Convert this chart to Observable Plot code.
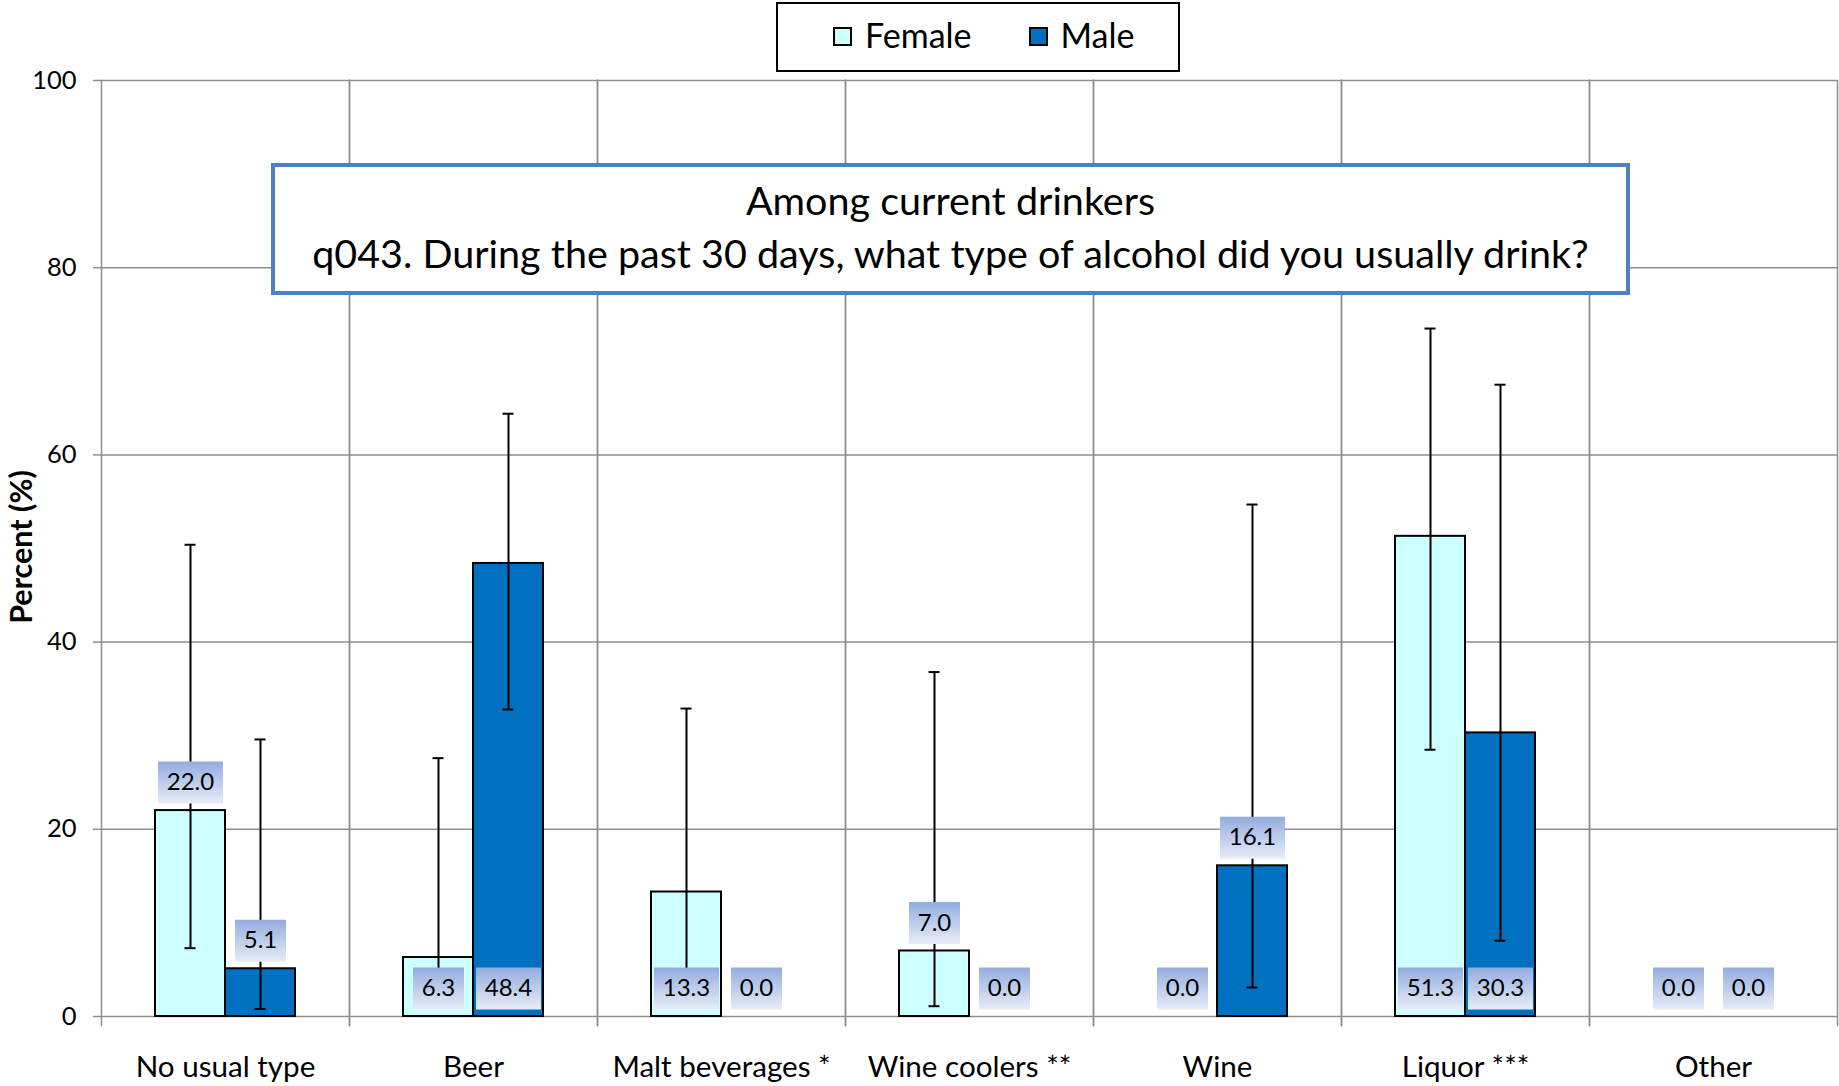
<!DOCTYPE html>
<html>
<head>
<meta charset="utf-8">
<script src="https://cdn.jsdelivr.net/npm/d3@7"></script>
<script src="https://cdn.jsdelivr.net/npm/@observablehq/plot@0.6"></script>
<style>
  html, body { margin: 0; padding: 0; background: #fff; }
  #wrap { position: relative; width: 1839px; height: 1086px; overflow: hidden; font-family: Lato, "Open Sans", sans-serif; color: #000; }
  #chart { position: absolute; left: 0; top: 0; }
  #legend { position: absolute; left: 776px; top: 2px; width: 404px; height: 70px; box-sizing: border-box; border: 2px solid #000; background: #fff;
            display: flex; align-items: center; padding-left: 55px; padding-bottom: 5px; font-size: 34px; }
  #legend .sw { width: 19px; height: 19px; box-sizing: border-box; border: 2px solid #000; margin-right: 13px; flex: none; margin-top: 3px; }
  #legend .lbl { white-space: nowrap; }
  #titlebox { position: absolute; left: 271px; top: 163px; width: 1359px; height: 132px; box-sizing: border-box; border: 4px solid #4F81BD; background: #fff; }
  #titlebox .line { position: absolute; left: 0; right: 0; text-align: center; font-size: 39.5px; line-height: 52px; white-space: nowrap; }
  #ytitle { position: absolute; left: 20px; top: 547px; transform: translate(-50%, -50%) rotate(-90deg); font-weight: bold; font-size: 30.5px; white-space: nowrap; }
</style>
</head>
<body>
<svg width="0" height="0" style="position:absolute">
  <defs>
    <linearGradient id="lblGrad" x1="0" y1="0" x2="0" y2="1">
      <stop offset="0" stop-color="#93ACDE"/>
      <stop offset="1" stop-color="#E8EDF8"/>
    </linearGradient>
  </defs>
</svg>
<div id="wrap">
  <div id="chart"></div>
  <div id="ytitle"></div>
  <div id="legend"></div>
  <div id="titlebox"></div>
</div>
<script>
// ---- data ----
const categories = ["No usual type", "Beer", "Malt beverages *", "Wine coolers **", "Wine", "Liquor ***", "Other"];
const seriesNames = ["Female", "Male"];
const seriesColors = ["#CCFFFF", "#0070C0"];
const femaleValues = [22.0, 6.3, 13.3, 7.0, 0.0, 51.3, 0.0];
const maleValues   = [5.1, 48.4, 0.0, 0.0, 16.1, 30.3, 0.0];
const femaleLow  = [7.3, 1.2, 3.0, 1.1, null, 28.5, null];
const femaleHigh = [50.4, 27.6, 32.9, 36.8, null, 73.5, null];
const maleLow    = [0.8, 32.8, null, null, 3.1, 8.1, null];
const maleHigh   = [29.6, 64.4, null, null, 54.7, 67.5, null];
const yTicks = [0, 20, 40, 60, 80, 100];
const labelsAboveBar = ["No usual type|Female", "No usual type|Male", "Wine coolers **|Female", "Wine|Male"];
const titleLines = ["Among current drinkers", "q043. During the past 30 days, what type of alcohol did you usually drink?"];
const yLabel = "Percent (%)";

// ---- table ----
const rows = [];
categories.forEach((c, i) => {
  rows.push({category: c, sex: "Female", value: femaleValues[i], low: femaleLow[i], high: femaleHigh[i]});
  rows.push({category: c, sex: "Male", value: maleValues[i], low: maleLow[i], high: maleHigh[i]});
});
rows.forEach(d => {
  d.label = d.value.toFixed(1);
  d.labelY = labelsAboveBar.includes(d.category + "|" + d.sex) ? d.value : 0;
});
const errRows = rows.filter(d => d.low != null && d.high != null);

// label box symbols (background boxes behind value labels)
const boxSymbol = (w) => ({ draw(ctx) { ctx.rect(-w / 2, -21, w, 42); } });
const wideBox = boxSymbol(65), narrowBox = boxSymbol(51);

const chart = Plot.plot({
  width: 1839,
  height: 1086,
  marginTop: 80,
  marginBottom: 70,
  marginLeft: 100,
  marginRight: 2,
  style: {fontFamily: "Lato, 'Open Sans', sans-serif", background: "transparent", color: "#000"},
  fx: {domain: categories, padding: 0},
  x: {domain: seriesNames, paddingInner: 0, paddingOuter: 0.747, axis: null},
  y: {domain: [0, 100]},
  color: {domain: seriesNames, range: seriesColors},
  marks: [
    Plot.gridY({ticks: yTicks, stroke: "#8e8e8e", strokeOpacity: 1, strokeWidth: 1.5}),
    Plot.frame({anchor: "left", stroke: "#8e8e8e", strokeWidth: 1.5, insetBottom: -9}),
    Plot.frame({anchor: "right", stroke: "#8e8e8e", strokeWidth: 1.5, insetBottom: -9}),
    Plot.axisY({ticks: yTicks, tickSize: 8, tickPadding: 17, fontSize: 25.5, label: null, stroke: "#8e8e8e", strokeWidth: 1.5}),
    Plot.axisFx({anchor: "bottom", tickSize: 0, tickPadding: 39, fontSize: 29.6, label: null}),
    Plot.barY(rows, {fx: "category", x: "sex", y: "value", fill: "sex", stroke: "#000", strokeWidth: 2, inset: 0}),
    Plot.ruleX(errRows, {fx: "category", x: "sex", y1: "low", y2: "high", stroke: "#000", strokeWidth: 2}),
    Plot.tickY(errRows, {fx: "category", x: "sex", y: "low", stroke: "#000", strokeWidth: 2, insetLeft: 29.5, insetRight: 29.5}),
    Plot.tickY(errRows, {fx: "category", x: "sex", y: "high", stroke: "#000", strokeWidth: 2, insetLeft: 29.5, insetRight: 29.5}),
    Plot.dot(rows.filter(d => d.label.length >= 4), {fx: "category", x: "sex", y: "labelY", dy: -28, symbol: wideBox, fill: "url(#lblGrad)", stroke: "none"}),
    Plot.dot(rows.filter(d => d.label.length < 4), {fx: "category", x: "sex", y: "labelY", dy: -28, symbol: narrowBox, fill: "url(#lblGrad)", stroke: "none"}),
    Plot.text(rows, {fx: "category", x: "sex", y: "labelY", dy: -28, text: "label", fontSize: 24, fill: "#000"})
  ]
});
document.getElementById("chart").appendChild(chart);

// ---- legend, title box, y title ----
const legend = document.getElementById("legend");
seriesNames.forEach((s, i) => {
  const sw = document.createElement("div");
  sw.className = "sw";
  sw.style.background = seriesColors[i];
  const lb = document.createElement("div");
  lb.className = "lbl";
  lb.textContent = s;
  if (i > 0) sw.style.marginLeft = "57px";
  legend.appendChild(sw);
  legend.appendChild(lb);
});
const tb = document.getElementById("titlebox");
titleLines.forEach((t, i) => {
  const d = document.createElement("div");
  d.className = "line";
  d.style.top = (i === 0 ? 6.5 : 59.5) + "px";
  d.textContent = t;
  tb.appendChild(d);
});
document.getElementById("ytitle").textContent = yLabel;
</script>
</body>
</html>
